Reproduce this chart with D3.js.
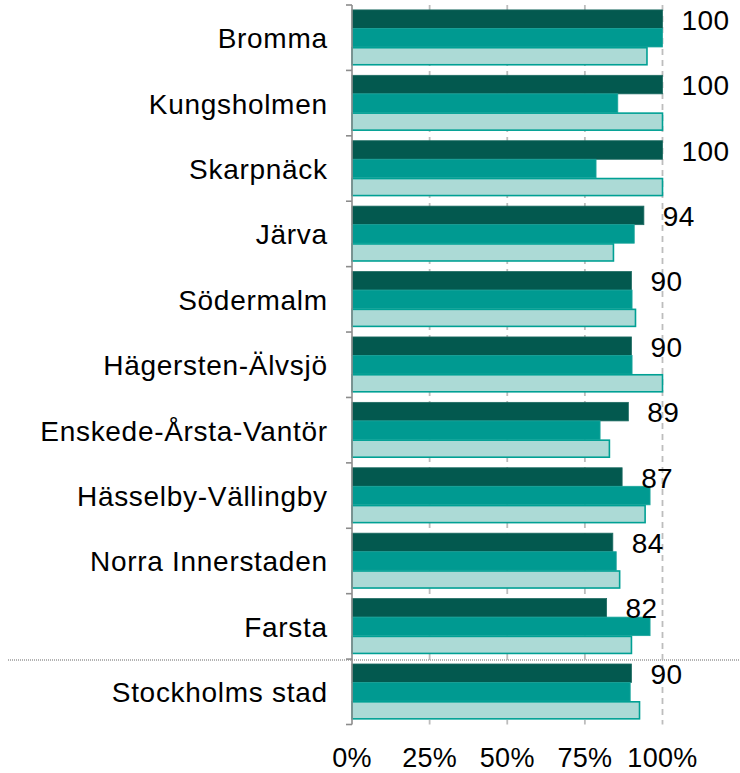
<!DOCTYPE html>
<html>
<head>
<meta charset="utf-8">
<script src="https://cdn.jsdelivr.net/npm/d3@7"></script>
<style>
  html, body { margin: 0; padding: 0; background: #fff; }
  svg { display: block; font-family: "Liberation Sans", Arial, sans-serif; }
</style>
</head>
<body>
<svg id="chart" width="740" height="773"></svg>
<script>
// Districts, top to bottom; the last row is the city total.
const categories = [
  "Bromma", "Kungsholmen", "Skarpnäck", "Järva", "Södermalm",
  "Hägersten-Älvsjö", "Enskede-Årsta-Vantör", "Hässelby-Vällingby",
  "Norra Innerstaden", "Farsta", "Stockholms stad"
];

// Share (%) per district, three series; the first one carries the value labels.
const seriesLatest   = [100, 100, 100, 94, 90, 90, 89, 87, 84, 82, 90];
const seriesPrevious = [100, 85.6, 78.6, 90.9, 90.2, 90.2, 79.9, 96.0, 85.1, 96.0, 89.6];
const seriesEarlier  = [95.0, 100, 100, 84.2, 91.3, 100, 82.9, 94.4, 86.2, 90.0, 92.6];

const seriesKeys = ["latest", "previous", "earlier"];
const xTicks = [0, 25, 50, 75, 100];
const xTickLabels = ["0%", "25%", "50%", "75%", "100%"];

const rows = categories.map((c, i) => ({
  category: c,
  latest: seriesLatest[i],
  previous: seriesPrevious[i],
  earlier: seriesEarlier[i]
}));

const svg = d3.select("#chart");
const fontSize = 28;

const x = d3.scaleLinear().domain([0, 100]).range([352, 662.5]);
const y0 = d3.scaleBand().domain(categories).range([5, 724.5])
  .paddingInner(0.15).paddingOuter(0.075);
const y1 = d3.scaleBand().domain(seriesKeys).range([0, y0.bandwidth()]);

const fills = { latest: "#03594f", previous: "#009a91", earlier: "#acdad6" };
const strokes = { latest: "#1d6b62", previous: "#1aa59c", earlier: "#00a094" };

const step = y0.step();
const outer = step * y0.paddingOuter();
const yTop = y0(categories[0]) - outer;
const yBottom = y0(categories[categories.length - 1]) + y0.bandwidth() + outer;

// Vertical dashed gridlines
svg.append("g")
  .selectAll("line")
  .data(xTicks.slice(1))
  .join("line")
  .attr("x1", d => x(d)).attr("x2", d => x(d))
  .attr("y1", yTop).attr("y2", yBottom)
  .attr("stroke", "#bdbdbd")
  .attr("stroke-width", 1.8)
  .attr("stroke-dasharray", "6,5");

// Bars
const groups = svg.append("g")
  .selectAll("g")
  .data(rows)
  .join("g")
  .attr("transform", d => `translate(0,${y0(d.category)})`);

groups.selectAll("rect")
  .data(d => seriesKeys.map(k => ({ key: k, value: d[k] })))
  .join("rect")
  .attr("x", x(0))
  .attr("y", d => y1(d.key) + (d.key === "earlier" ? 0.75 : 0))
  .attr("width", d => x(d.value) - x(0))
  .attr("height", d => y1.bandwidth() - (d.key === "earlier" ? 1.5 : 0))
  .attr("fill", d => fills[d.key])
  .attr("stroke", d => strokes[d.key])
  .attr("stroke-width", d => d.key === "earlier" ? 1.6 : 0.8);

// Value labels for the first series
groups.append("text")
  .attr("x", d => x(d.latest) + 19)
  .attr("y", y1("latest") + y1.bandwidth() / 2 + 1)
  .attr("dominant-baseline", "central")
  .attr("font-size", fontSize)
  .attr("letter-spacing", 0.4)
  .attr("fill", "#000")
  .text(d => d3.format("d")(d.latest));

// Dotted separator above the city total
const sepY = y0(categories[categories.length - 1]) - outer + 1;
svg.append("line")
  .attr("x1", 8).attr("x2", 740)
  .attr("y1", sepY).attr("y2", sepY)
  .attr("stroke", "#b3b3b3")
  .attr("stroke-width", 2)
  .attr("stroke-dasharray", "1,1");

// Category axis: line plus ticks at band boundaries
const axisG = svg.append("g");
const boundaries = categories.map(c => y0(c) - outer).concat([yBottom]);
axisG.append("line")
  .attr("x1", x(0)).attr("x2", x(0))
  .attr("y1", yTop).attr("y2", yBottom)
  .attr("stroke", "#8c8c8c").attr("stroke-width", 1.6);
axisG.selectAll("line.tick")
  .data(boundaries)
  .join("line")
  .attr("class", "tick")
  .attr("x1", x(0) - 6).attr("x2", x(0))
  .attr("y1", d => d).attr("y2", d => d)
  .attr("stroke", "#8c8c8c").attr("stroke-width", 1.6);

axisG.selectAll("text")
  .data(categories)
  .join("text")
  .attr("x", x(0) - 24.3)
  .attr("y", d => y0(d) + y0.bandwidth() / 2 + 1)
  .attr("text-anchor", "end")
  .attr("dominant-baseline", "central")
  .attr("font-size", fontSize)
  .attr("letter-spacing", 0.7)
  .attr("fill", "#000")
  .text(d => d);

// Percentage axis labels
svg.append("g")
  .selectAll("text")
  .data(xTicks)
  .join("text")
  .attr("x", d => x(d))
  .attr("y", 767)
  .attr("text-anchor", "middle")
  .attr("font-size", 27)
  .attr("letter-spacing", 0.3)
  .attr("fill", "#000")
  .text((d, i) => xTickLabels[i]);
</script>
</body>
</html>
